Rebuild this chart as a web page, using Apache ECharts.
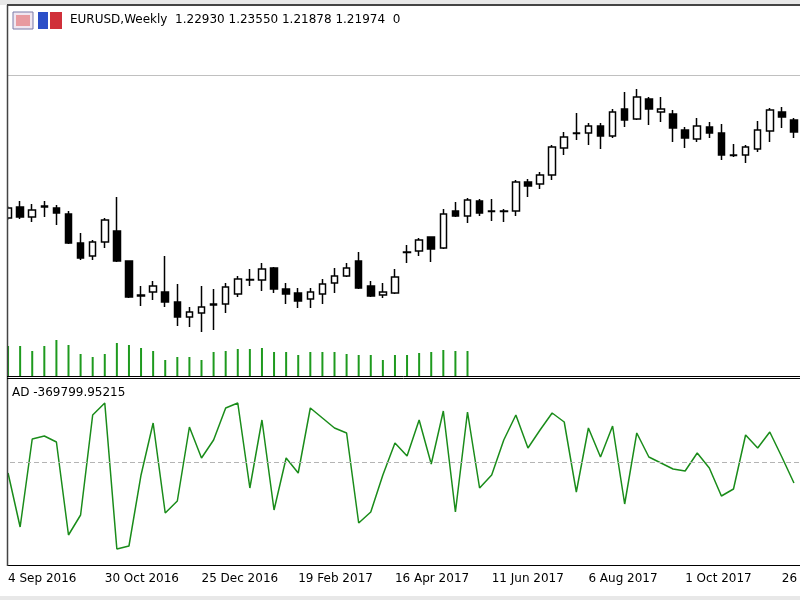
<!DOCTYPE html>
<html>
<head>
<meta charset="utf-8">
<script src="https://cdn.jsdelivr.net/npm/echarts@6/dist/echarts.min.js"></script>
<style>html,body{margin:0;padding:0;background:#fff}#chart{width:800px;height:600px}</style>
</head>
<body>
<div id="chart"></div>
<script>
// EURUSD weekly: candles [open, close, low, high]
const candles = [
  [1.1159,1.1232,1.1144,1.1246],[1.1239,1.1166,1.1151,1.1283],[1.1166,1.1217,1.1129,1.1261],[1.1246,1.1239,1.1166,1.1283],
  [1.1232,1.1195,1.1107,1.1254],[1.1188,1.0976,1.0969,1.1210],[1.0976,1.0867,1.0852,1.1049],[1.0881,1.0983,1.0852,1.0998],
  [1.0983,1.1144,1.0940,1.1159],[1.1064,1.0845,1.0837,1.1312],[1.0845,1.0582,1.0575,1.0850],[1.0597,1.0589,1.0516,1.0662],
  [1.0618,1.0662,1.0560,1.0699],[1.0618,1.0545,1.0509,1.0881],[1.0545,1.0436,1.0370,1.0676],[1.0436,1.0472,1.0363,1.0509],
  [1.0465,1.0509,1.0326,1.0662],[1.0531,1.0523,1.0341,1.0640],[1.0531,1.0655,1.0465,1.0684],[1.0604,1.0713,1.0582,1.0735],
  [1.0706,1.0710,1.0662,1.0786],[1.0706,1.0786,1.0626,1.0830],[1.0794,1.0640,1.0611,1.0801],[1.0640,1.0604,1.0531,1.0684],
  [1.0611,1.0553,1.0502,1.0648],[1.0567,1.0618,1.0502,1.0648],[1.0604,1.0676,1.0531,1.0713],[1.0684,1.0735,1.0611,1.0794],
  [1.0735,1.0794,1.0728,1.0830],[1.0845,1.0648,1.0640,1.0910],[1.0662,1.0589,1.0582,1.0699],[1.0597,1.0618,1.0575,1.0684],
  [1.0611,1.0728,1.0604,1.0786],[1.0910,1.0906,1.0830,1.0962],[1.0918,1.0998,1.0881,1.1013],[1.1020,1.0932,1.0837,1.1020],
  [1.0940,1.1188,1.0932,1.1224],[1.1210,1.1173,1.1166,1.1275],[1.1173,1.1290,1.1122,1.1305],[1.1283,1.1195,1.1173,1.1297],
  [1.1210,1.1206,1.1137,1.1297],[1.1206,1.1210,1.1129,1.1224],[1.1210,1.1421,1.1173,1.1436],[1.1421,1.1392,1.1312,1.1443],
  [1.1407,1.1473,1.1370,1.1494],[1.1473,1.1677,1.1436,1.1692],[1.1670,1.1750,1.1619,1.1786],[1.1779,1.1775,1.1728,1.1925],
  [1.1779,1.1830,1.1692,1.1852],[1.1830,1.1757,1.1662,1.1852],[1.1757,1.1933,1.1743,1.1954],[1.1954,1.1874,1.1823,1.2078],
  [1.1881,1.2042,1.1874,1.2100],[1.2027,1.1954,1.1838,1.2042],[1.1933,1.1954,1.1859,1.2042],[1.1918,1.1816,1.1714,1.1947],
  [1.1801,1.1743,1.1670,1.1823],[1.1735,1.1830,1.1714,1.1889],[1.1823,1.1779,1.1743,1.1859],[1.1779,1.1618,1.1582,1.1845],
  [1.1618,1.1614,1.1604,1.1699],[1.1618,1.1677,1.1560,1.1692],[1.1662,1.1801,1.1640,1.1867],[1.1794,1.1947,1.1714,1.1962],
  [1.1933,1.1896,1.1816,1.1969],[1.1874,1.1786,1.1743,1.1889]
];
const volumes = [30,30,25,30,36,31,22,19,22,33,31,28,25,16,19,19,16,24,25,27,27,28,24,24,21,24,24,24,22,21,21,16,21,
  21,23,24,26,25,25];
const adValues = [-193700,-1144700,405000,457900,352200,-1285500,-933300,827700,1039000,-1532100,-1479200,-228900,
  686800,-898100,-686800,616400,70400,387400,950900,1039000,-457900,739600,-845300,70400,-193700,950900,774800,
  598700,510700,-1074200,-880500,-228900,334600,105700,739600,-35200,898100,-880500,880500,-457900,-228900,387400,
  827700,246500,563500,862900,704400,-528300,598700,88100,634000,-739600,510700,88100,-17600,-123300,-158500,
  158500,-105700,-598700,-475500,475500,246500,528300,88100,-369799.95];
const bidPrice = 1.2203;
const headerText = 'EURUSD,Weekly  1.22930 1.23550 1.21878 1.21974  0';
const adLabel = 'AD -369799.95215';

const months = ['Jan','Feb','Mar','Apr','May','Jun','Jul','Aug','Sep','Oct','Nov','Dec'];
const dates = candles.map((c, i) => {
  const d = new Date(Date.UTC(2016, 8, 4 + 7 * i));
  return d.getUTCDate() + ' ' + months[d.getUTCMonth()] + ' ' + d.getUTCFullYear();
});

const font = 'Tahoma, "DejaVu Sans", sans-serif';
const chart = echarts.init(document.getElementById('chart'), null, {renderer: 'canvas'});
chart.setOption({
  animation: false,
  backgroundColor: '#fff',
  grid: [
    {left: 2, right: 0, top: 18, height: 358, outerBoundsMode: 'none', containLabel: false},
    {left: 2, right: 0, top: 379, height: 186, outerBoundsMode: 'none', containLabel: false}
  ],
  xAxis: [
    {type: 'category', gridIndex: 0, data: dates, show: false},
    {type: 'category', gridIndex: 1, data: dates,
      axisLine: {onZero: false, lineStyle: {color: '#000', width: 1}},
      axisTick: {alignWithLabel: true, interval: 7, length: 5, lineStyle: {color: '#000'}},
      axisLabel: {interval: 7, align: 'left', color: '#000', fontFamily: font, fontSize: 12, margin: 8}}
  ],
  yAxis: [
    {gridIndex: 0, min: 1.00052, max: 1.26186, show: false},
    {gridIndex: 0, min: 0, max: 358, show: false},
    {gridIndex: 1, min: -1813800, max: 1461600, show: false}
  ],
  series: [
    {type: 'bar', xAxisIndex: 0, yAxisIndex: 1, data: volumes, barWidth: 2,
      itemStyle: {color: '#1e9a1e'}, silent: true},
    {type: 'candlestick', xAxisIndex: 0, yAxisIndex: 0, data: candles, barWidth: 7,
      itemStyle: {color: '#fff', color0: '#000', borderColor: '#000', borderColor0: '#000', borderWidth: 1.5},
      markLine: {symbol: 'none', silent: true, label: {show: false},
        lineStyle: {color: '#c0c0c0', type: 'solid', width: 1}, data: [{yAxis: bidPrice}]}},
    {type: 'line', xAxisIndex: 1, yAxisIndex: 2, data: adValues, showSymbol: false,
      lineStyle: {color: '#1a8c1a', width: 1.5}, z: 3,
      markLine: {symbol: 'none', silent: true, label: {show: false},
        lineStyle: {color: '#b4b4b4', type: [5, 3], width: 1}, data: [{yAxis: 0}]}}
  ],
  graphic: [
    {type: 'rect', shape: {x: 0, y: 0, width: 7, height: 600}, style: {fill: '#fff'}, z: 100},
    {type: 'rect', shape: {x: 0, y: 0, width: 800, height: 5}, style: {fill: '#e8e8e8'}, z: 100},
    {type: 'line', shape: {x1: 7, y1: 5, x2: 800, y2: 5}, style: {stroke: '#444', lineWidth: 2}, z: 101},
    {type: 'line', shape: {x1: 7.5, y1: 5, x2: 7.5, y2: 566}, style: {stroke: '#444', lineWidth: 1.5}, z: 101},
    {type: 'line', shape: {x1: 7, y1: 376.5, x2: 800, y2: 376.5}, style: {stroke: '#000', lineWidth: 1}, z: 101},
    {type: 'line', shape: {x1: 7, y1: 378.5, x2: 800, y2: 378.5}, style: {stroke: '#000', lineWidth: 1}, z: 101},
    {type: 'rect', shape: {x: 0, y: 596, width: 800, height: 4}, style: {fill: '#e8e8e8'}, z: 100},
    {type: 'rect', shape: {x: 13, y: 12, width: 20, height: 17}, style: {fill: '#f0e6f0', stroke: '#7a7aa8', lineWidth: 1}, z: 102},
    {type: 'rect', shape: {x: 16, y: 15, width: 14, height: 11}, style: {fill: '#e89aa0'}, z: 103},
    {type: 'rect', shape: {x: 38, y: 12, width: 10, height: 17}, style: {fill: '#2c4fc8'}, z: 102},
    {type: 'rect', shape: {x: 50, y: 12, width: 12, height: 17}, style: {fill: '#d0303a'}, z: 102},
    {type: 'text', left: 70, top: 14, z: 102,
      style: {text: headerText, font: '12px ' + font, fill: '#000'}},
    {type: 'text', left: 12, top: 387, z: 102,
      style: {text: adLabel, font: '12px ' + font, fill: '#000'}}
  ]
});
</script>
</body>
</html>
